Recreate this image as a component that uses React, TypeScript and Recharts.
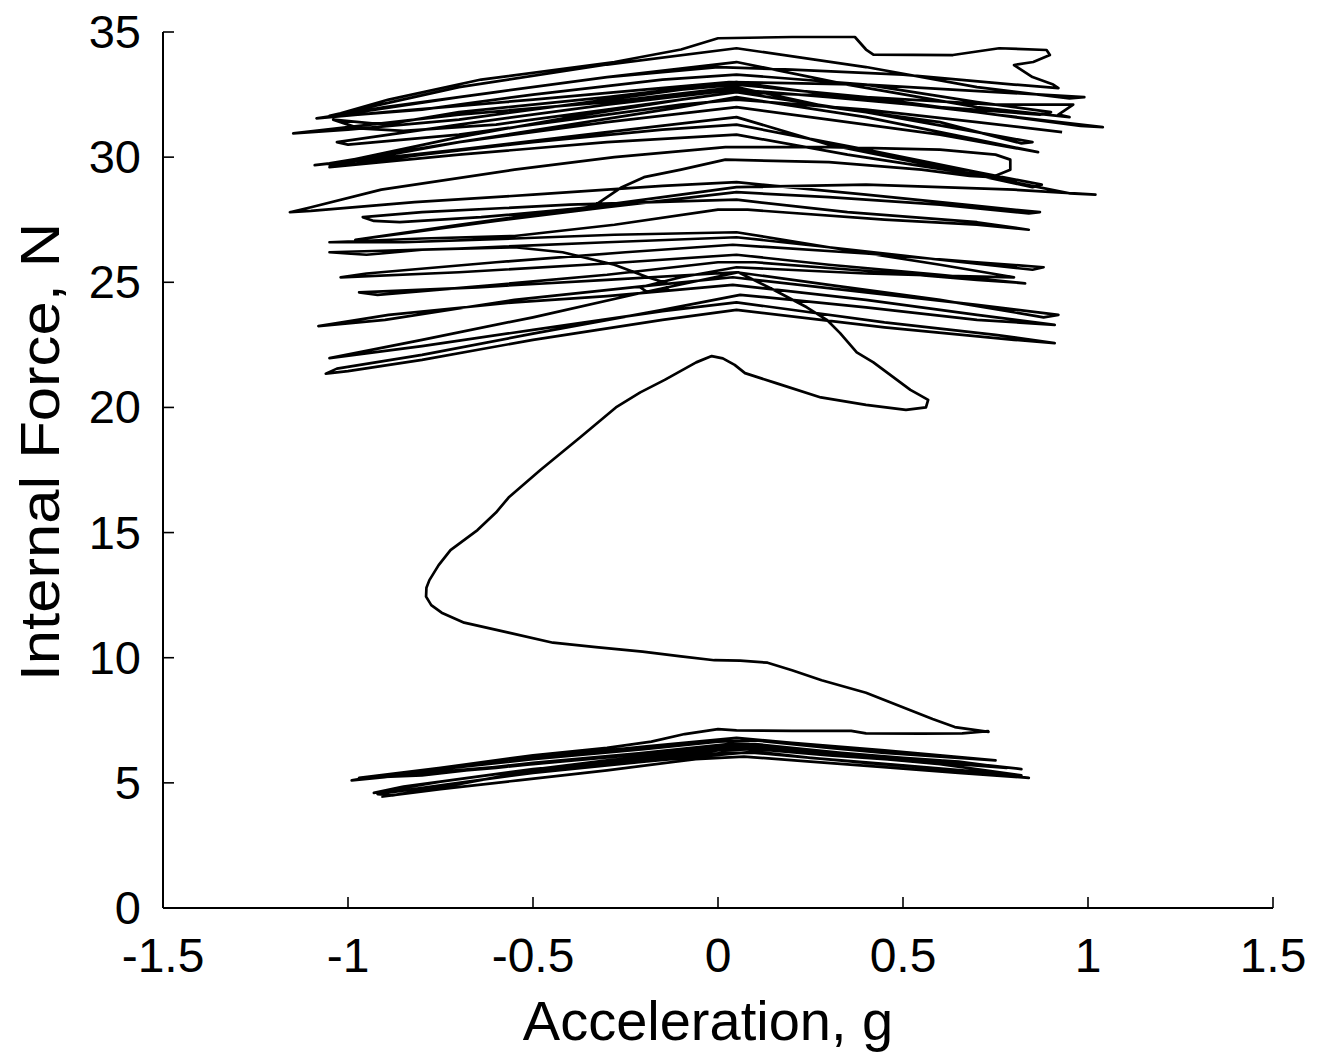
import React from 'react';
import { LineChart, Line, XAxis, YAxis } from 'recharts';

// axis ticks
const accelTicks = [-1.5, -1, -0.5, 0, 0.5, 1, 1.5];
const forceTicks = [0, 5, 10, 15, 20, 25, 30, 35];

// [acceleration g, internal force N], in drawing order
const lowerLoops: [number, number][] = [
  [-0.91, 4.45], [-0.75, 4.75], [-0.54, 5.1], [-0.3, 5.5], [-0.06, 5.95], [0.07, 6.05], [0.25, 5.85], [0.43, 5.65], [0.65, 5.4], [0.84, 5.2],
  [0.7, 5.45], [0.5, 5.7], [0.25, 6.0], [0.1, 6.25], [-0.2, 5.85], [-0.5, 5.4], [-0.75, 4.9], [-0.92, 4.55], [-0.88, 4.5],
  [-0.7, 4.95], [-0.5, 5.5], [-0.2, 5.95], [0.0, 6.3], [0.1, 6.35], [0.3, 6.1], [0.45, 5.95], [0.65, 5.75], [0.78, 5.6],
  [0.65, 5.85], [0.5, 6.0], [0.25, 6.3], [0.05, 6.5], [-0.2, 6.15], [-0.5, 5.75], [-0.75, 5.45], [-0.99, 5.1], [-0.95, 5.2],
  [-0.75, 5.55], [-0.5, 5.95], [-0.2, 6.35], [0.0, 6.65], [0.1, 6.7], [0.3, 6.4], [0.45, 6.2], [0.6, 6.05], [0.75, 5.9],
  [0.6, 6.1], [0.45, 6.3], [0.2, 6.6], [0.05, 6.8], [-0.2, 6.45], [-0.5, 6.0], [-0.75, 5.6], [-0.97, 5.2],
  [-0.8, 5.3], [-0.5, 5.8], [-0.2, 6.2], [0.05, 6.55], [0.1, 6.55], [0.4, 6.1], [0.7, 5.75], [0.82, 5.55],
  [0.6, 5.9], [0.3, 6.2], [0.08, 6.45], [-0.3, 5.9], [-0.6, 5.35], [-0.85, 4.85], [-0.93, 4.6],
  [-0.75, 5.05], [-0.5, 5.55], [-0.25, 5.9], [0.02, 6.2], [0.1, 6.2], [0.4, 5.8], [0.7, 5.45], [0.82, 5.3],
  [0.6, 5.75], [0.3, 6.15], [0.06, 6.6], [-0.3, 6.05], [-0.6, 5.6], [-0.97, 5.15],
  [-0.8, 5.5], [-0.5, 6.1], [-0.3, 6.4], [-0.18, 6.65], [-0.09, 6.95], [0.0, 7.15], [0.05, 7.1], [0.2, 7.08], [0.36, 7.08],
  [0.4, 6.98], [0.55, 6.97], [0.66, 6.98], [0.73, 7.07],
];

const riseCurve: [number, number][] = [
  [0.731, 7.04], [0.64, 7.23], [0.58, 7.55], [0.52, 7.9], [0.46, 8.25], [0.4, 8.6], [0.28, 9.1], [0.2, 9.5], [0.134, 9.8],
  [0.06, 9.88], [-0.01, 9.9], [-0.1, 10.05], [-0.204, 10.24], [-0.33, 10.42], [-0.446, 10.6], [-0.566, 11.0],
  [-0.686, 11.4], [-0.747, 11.8], [-0.775, 12.1], [-0.789, 12.44], [-0.788, 12.8], [-0.78, 13.1], [-0.755, 13.7],
  [-0.723, 14.3], [-0.65, 15.1], [-0.6, 15.8], [-0.566, 16.4], [-0.48, 17.5], [-0.373, 18.8], [-0.276, 20.0],
  [-0.21, 20.6], [-0.144, 21.1], [-0.059, 21.8], [-0.017, 22.05], [0.013, 21.96], [0.045, 21.7], [0.073, 21.37],
  [0.157, 20.97], [0.278, 20.4], [0.4, 20.1], [0.508, 19.9], [0.562, 20.0], [0.568, 20.3], [0.52, 20.7],
  [0.47, 21.25], [0.42, 21.8], [0.375, 22.2], [0.33, 22.97], [0.294, 23.5], [0.24, 24.0], [0.15, 24.7], [0.055, 25.4],
];

const bandLow: [number, number][] = [
  [-0.2, 24.6], [-0.5, 23.6], [-0.8, 22.7], [-1.05, 21.97],
  [-0.8, 22.45], [-0.5, 23.1], [-0.15, 23.85], [0.05, 24.2], [0.45, 23.4], [0.75, 22.9], [0.91, 22.57],
  [0.8, 22.7], [0.45, 23.2], [0.05, 23.9], [-0.15, 23.5], [-0.5, 22.7], [-0.8, 21.9], [-1.0, 21.45], [-1.06, 21.35], [-1.03, 21.55],
  [-0.8, 22.1], [-0.5, 22.95], [-0.15, 23.9], [0.06, 24.5], [0.4, 24.0], [0.7, 23.5], [0.91, 23.3],
  [0.7, 23.7], [0.4, 24.3], [0.04, 24.9], [-0.3, 24.45], [-0.55, 24.2], [-0.89, 23.7], [-1.08, 23.25],
  [-0.9, 23.5], [-0.55, 24.3], [-0.2, 24.85], [0.04, 25.2], [0.4, 24.6], [0.7, 24.1], [0.92, 23.7], [0.88, 23.6],
  [0.6, 24.3], [0.3, 24.9], [0.05, 25.4], [-0.3, 25.1], [-0.65, 24.8], [-0.97, 24.6], [-0.92, 24.5],
  [-0.6, 24.9], [-0.3, 25.3], [0.0, 25.8], [0.1, 25.8], [0.45, 25.4], [0.7, 25.1], [0.83, 24.96],
  [0.6, 25.3], [0.3, 25.7], [0.05, 26.1], [-0.3, 25.75], [-0.7, 25.4], [-1.02, 25.2], [-0.95, 25.35],
  [-0.6, 25.8], [-0.25, 26.2], [0.04, 26.5], [0.4, 26.15], [0.7, 25.8], [0.88, 25.6], [0.85, 25.5],
  [0.6, 25.9], [0.3, 26.4], [0.05, 26.8], [-0.3, 26.6], [-0.7, 26.35], [-1.05, 26.2], [-0.95, 26.1], [-0.8, 26.3],
  [-0.55, 26.4], [-0.42, 26.2], [-0.28, 25.7], [-0.19, 25.2], [-0.14, 24.97], [-0.135, 24.7], [-0.19, 24.6], [-0.21, 24.8],
  [-0.1, 25.2], [0.05, 25.6], [0.4, 25.35], [0.65, 25.25], [0.8, 25.2],
  [0.6, 25.7], [0.3, 26.4], [0.05, 27.0], [-0.28, 26.9], [-0.55, 26.75], [-0.85, 26.6], [-1.05, 26.6],
  [-0.8, 26.75], [-0.55, 26.85], [-0.28, 27.3], [0.0, 27.9], [0.08, 27.9], [0.45, 27.5], [0.7, 27.3], [0.84, 27.1],
  [0.7, 27.4], [0.35, 27.8], [0.05, 28.3], [-0.4, 28.1], [-0.8, 27.8], [-0.96, 27.6],
];

const bandHigh: [number, number][] = [
  [-0.93, 27.45], [-0.86, 27.4], [-0.64, 27.6], [-0.34, 28.0], [-0.3, 28.4], [-0.26, 28.8], [-0.2, 29.2], [-0.1, 29.5],
  [0.02, 29.9], [0.3, 29.8], [0.55, 29.5], [0.68, 29.25], [0.74, 29.2], [0.79, 29.5], [0.79, 29.9], [0.75, 30.1], [0.6, 30.3],
  [0.3, 30.4], [0.02, 30.4], [-0.28, 30.0], [-0.55, 29.5], [-0.91, 28.7], [-1.1, 28.0], [-1.157, 27.8],
  [-1.1, 27.85], [-0.82, 28.2], [-0.5, 28.5], [-0.15, 28.85], [0.05, 29.0], [0.4, 28.5], [0.7, 28.05], [0.87, 27.8], [0.84, 27.75],
  [0.6, 28.1], [0.3, 28.4], [0.05, 28.6], [-0.3, 28.0], [-0.6, 27.45], [-0.85, 26.95], [-0.98, 26.7],
  [-0.7, 27.3], [-0.4, 27.9], [-0.1, 28.5], [0.05, 28.8], [0.4, 28.9], [0.8, 28.7], [1.02, 28.5], [0.95, 28.55],
  [0.7, 29.3], [0.35, 30.1], [0.05, 30.9], [-0.3, 30.6], [-0.7, 30.1], [-1.05, 29.6],
  [-0.8, 30.1], [-0.5, 30.6], [-0.15, 31.1], [0.05, 31.3], [0.4, 30.3], [0.7, 29.4], [0.875, 28.9], [0.85, 28.8],
  [0.6, 29.6], [0.3, 30.5], [0.05, 31.6], [-0.3, 31.0], [-0.7, 30.3], [-1.09, 29.68], [-1.05, 29.75],
  [-0.7, 30.6], [-0.4, 31.3], [-0.1, 32.0], [0.05, 32.4], [0.4, 31.6], [0.7, 30.7], [0.865, 30.2],
  [0.6, 30.9], [0.3, 31.5], [0.05, 32.0], [-0.3, 31.4], [-0.7, 30.6], [-1.0, 29.8], [-1.05, 29.7],
  [-0.7, 30.8], [-0.4, 31.6], [-0.1, 32.3], [0.05, 32.6], [0.4, 31.8], [0.7, 31.0], [0.85, 30.6], [0.82, 30.55],
  [0.6, 31.4], [0.3, 32.0], [0.05, 32.8], [-0.3, 32.2], [-0.7, 31.7], [-1.0, 31.2], [-1.148, 30.95],
  [-1.0, 31.1], [-0.7, 31.5], [-0.4, 32.1], [-0.1, 32.7], [0.05, 32.9], [0.4, 32.4], [0.75, 31.7], [1.04, 31.2], [0.98, 31.25],
  [0.7, 31.8], [0.35, 32.4], [0.05, 33.0], [-0.3, 32.4], [-0.7, 31.8], [-0.9, 31.3], [-1.04, 31.5],
  [-0.97, 31.15], [-0.85, 31.05], [-0.6, 31.3], [-0.3, 31.9], [0.05, 32.6], [0.4, 32.4], [0.75, 32.1], [0.96, 32.1],
  [0.94, 31.9], [0.92, 31.7], [0.95, 31.6],
  [0.7, 32.0], [0.35, 32.9], [0.05, 33.8], [-0.3, 33.2], [-0.7, 32.4], [-1.085, 31.55],
  [-0.9, 31.8], [-0.5, 32.3], [-0.2, 32.7], [0.03, 33.0], [0.4, 32.9], [0.75, 32.6], [0.99, 32.4], [0.95, 32.35],
  [0.7, 32.8], [0.4, 33.6], [0.05, 34.35], [-0.3, 33.7], [-0.7, 32.8], [-1.05, 31.65], [-1.02, 31.75],
  [-0.89, 32.3], [-0.64, 33.1], [-0.28, 33.8], [-0.1, 34.3], [0.0, 34.75], [0.2, 34.8], [0.37, 34.8], [0.4, 34.3],
  [0.42, 34.1], [0.635, 34.08], [0.76, 34.35], [0.888, 34.28], [0.897, 34.08], [0.852, 33.8], [0.8, 33.68],
  [0.85, 33.2], [0.906, 32.9], [0.92, 32.76],
  [0.8, 32.9], [0.5, 33.3], [0.2, 33.5], [0.0, 33.6], [-0.3, 33.2], [-0.6, 32.6], [-0.9, 32.0], [-1.06, 31.6],
  [-0.8, 31.9], [-0.5, 32.5], [-0.15, 33.1], [0.05, 33.3], [0.4, 32.9], [0.7, 32.2], [0.9, 31.8], [0.87, 31.7],
  [0.6, 32.0], [0.3, 32.4], [0.05, 32.7], [-0.3, 32.1], [-0.7, 31.3], [-1.03, 30.6], [-1.0, 30.5],
  [-0.7, 30.9], [-0.4, 31.5], [-0.1, 32.1], [0.05, 32.3], [0.4, 31.9], [0.7, 31.4], [0.93, 31.0],
];

const trace = [...lowerLoops, ...riseCurve, ...bandLow, ...bandHigh].map(([a, f]) => ({ a, f }));

const FONT = '"Liberation Sans", Arial, Helvetica, sans-serif';

const BottomTick = ({ x, y, payload }: any) => (
  <g>
    <line x1={x} y1={y} x2={x} y2={y - 11} stroke="#000" strokeWidth={1.6} />
    <text x={x} y={y + 64} textAnchor="middle" fontSize={48} fontFamily={FONT} fill="#000">
      {payload.value}
    </text>
  </g>
);

const TopTick = ({ x, y }: any) => (
  <line x1={x} y1={y} x2={x} y2={y + 11} stroke="#000" strokeWidth={1.6} />
);

const LeftTick = ({ x, y, payload }: any) => (
  <g>
    <line x1={x} y1={y} x2={x + 11} y2={y} stroke="#000" strokeWidth={1.6} />
    <text x={x - 22} y={y + 16} textAnchor="end" fontSize={47} fontFamily={FONT} fill="#000">
      {payload.value}
    </text>
  </g>
);

const RightTick = ({ x, y }: any) => (
  <line x1={x} y1={y} x2={x - 11} y2={y} stroke="#000" strokeWidth={1.6} />
);

const XTitle = ({ viewBox }: any) => (
  <text x={708} y={viewBox.y + 132} textAnchor="middle" fontSize={56} fontFamily={FONT} fill="#000">
    Acceleration, g
  </text>
);

const YTitle = () => (
  <text transform="translate(59,452) rotate(-90) scale(1.1,1)" textAnchor="middle" fontSize={56} fontFamily={FONT} fill="#000">
    Internal Force, N
  </text>
);

const axisLine = { stroke: '#000', strokeWidth: 2 };

export default function App() {
  return (
    <div style={{ width: 1326, height: 1055, background: '#fff' }}>
      <style>{'body{margin:0}'}</style>
      <LineChart width={1326} height={1055} data={trace} margin={{ top: 32, right: 53, bottom: 0, left: 0 }}>
        <XAxis
          dataKey="a"
          type="number"
          domain={[-1.5, 1.5]}
          ticks={accelTicks}
          allowDataOverflow
          height={147}
          axisLine={axisLine}
          tickLine={false}
          tickSize={0}
          tickMargin={0}
          tick={<BottomTick />}
          interval={0}
          label={{ content: <XTitle /> }}
        />
        <XAxis
          xAxisId="top"
          orientation="top"
          type="number"
          domain={[-1.5, 1.5]}
          ticks={accelTicks}
          allowDataOverflow
          height={0}
          axisLine={axisLine}
          tickLine={false}
          tickSize={0}
          tickMargin={0}
          tick={<TopTick />}
          interval={0}
        />
        <YAxis
          type="number"
          domain={[0, 35]}
          ticks={forceTicks}
          allowDataOverflow
          width={163}
          axisLine={axisLine}
          tickLine={false}
          tickSize={0}
          tickMargin={0}
          tick={<LeftTick />}
          interval={0}
          label={{ content: <YTitle /> }}
        />
        <YAxis
          yAxisId="right"
          orientation="right"
          type="number"
          domain={[0, 35]}
          ticks={forceTicks}
          allowDataOverflow
          width={0}
          axisLine={axisLine}
          tickLine={false}
          tickSize={0}
          tickMargin={0}
          tick={<RightTick />}
          interval={0}
        />
        <Line
          dataKey="f"
          type="linear"
          stroke="#000"
          strokeWidth={2.7}
          strokeLinejoin="round"
          dot={false}
          activeDot={false}
          isAnimationActive={false}
        />
      </LineChart>
    </div>
  );
}
